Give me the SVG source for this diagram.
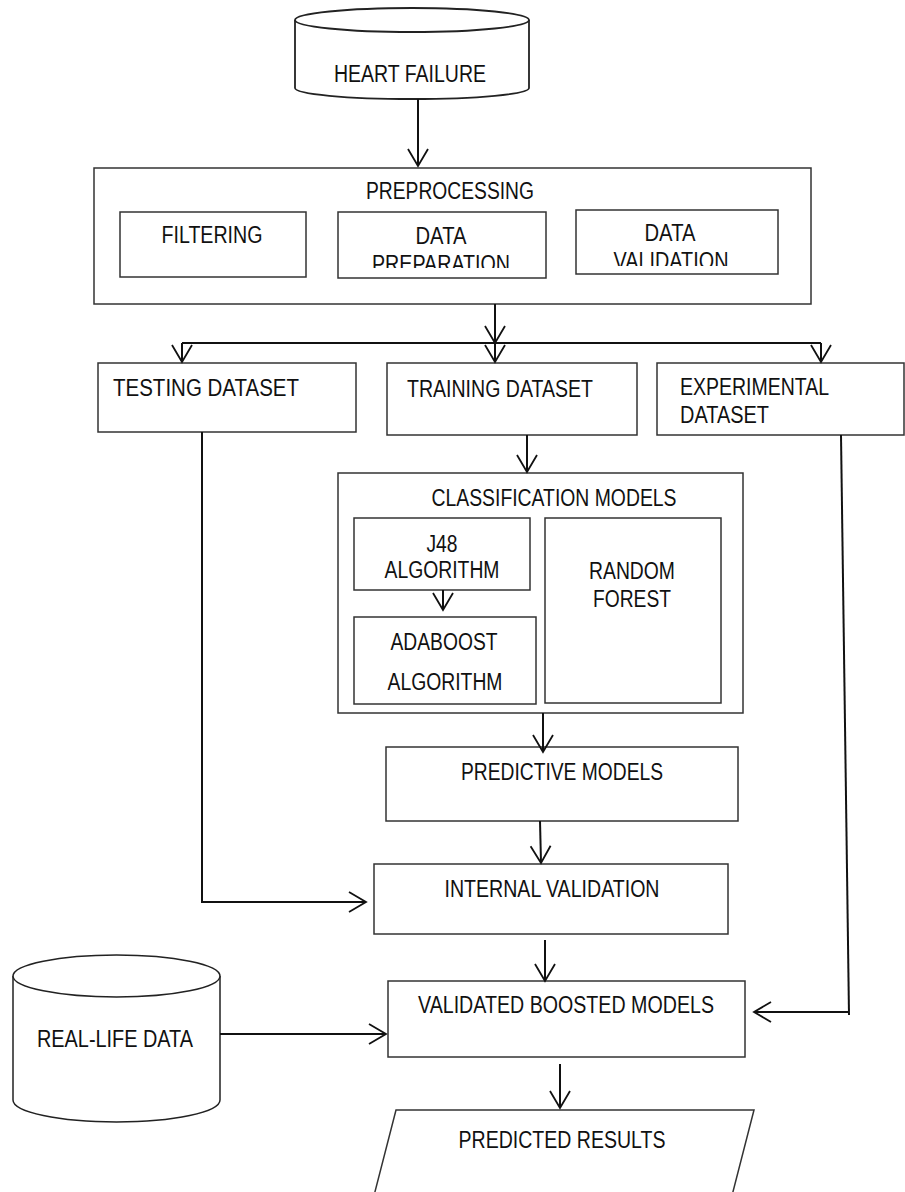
<svg xmlns="http://www.w3.org/2000/svg" width="905" height="1192" viewBox="0 0 905 1192">
<style>
.box{fill:#fff;stroke:#333;stroke-width:1.5}
.cyl{fill:#fff;stroke:#222;stroke-width:1.8}
.t{font-family:"Liberation Sans Narrow","Arial Narrow","Liberation Sans",Arial,sans-serif;font-size:23.5px;fill:#111}
.m{text-anchor:middle}
.c{fill:none;stroke:#111;stroke-width:2}
</style>
<defs>
<marker id="arr" markerUnits="userSpaceOnUse" markerWidth="20" markerHeight="24" viewBox="0 0 20 24" refX="18" refY="12" orient="auto">
<path d="M1,2 L18,12 L1,22" fill="none" stroke="#111" stroke-width="1.8"/>
</marker>
<clipPath id="clipPrep"><rect x="338" y="212" width="208" height="56"/></clipPath>
<clipPath id="clipVal"><rect x="576" y="210" width="202" height="56"/></clipPath>
</defs>
<rect width="905" height="1192" fill="#fff"/>

<g id="heart-failure">
<path class="cyl" d="M295,20 V88 A117,11 0 0 0 529,88 V20"/>
<ellipse class="cyl" cx="412" cy="20" rx="117" ry="12"/>
<text class="t m" x="410" y="82" textLength="152" lengthAdjust="spacingAndGlyphs">HEART FAILURE</text>
</g>

<g id="preprocessing">
<rect class="box" x="94" y="168" width="717" height="136"/>
<text class="t m" x="450" y="199" textLength="168" lengthAdjust="spacingAndGlyphs">PREPROCESSING</text>
</g>
<g id="filtering">
<rect class="box" x="120" y="212" width="186" height="65"/>
<text class="t m" x="212" y="243" textLength="101" lengthAdjust="spacingAndGlyphs">FILTERING</text>
</g>
<g id="data-preparation">
<rect class="box" x="338" y="212" width="208" height="66"/>
<text class="t m" x="441" y="244" textLength="51" lengthAdjust="spacingAndGlyphs">DATA</text>
<text class="t m" x="441" y="272" clip-path="url(#clipPrep)" textLength="138" lengthAdjust="spacingAndGlyphs">PREPARATION</text>
</g>
<g id="data-validation">
<rect class="box" x="576" y="210" width="202" height="64"/>
<text class="t m" x="670" y="241" textLength="51" lengthAdjust="spacingAndGlyphs">DATA</text>
<text class="t m" x="671" y="269" clip-path="url(#clipVal)" textLength="115" lengthAdjust="spacingAndGlyphs">VALIDATION</text>
</g>

<g id="testing-dataset">
<rect class="box" x="98" y="363" width="258" height="69"/>
<text class="t" x="113" y="396" textLength="186" lengthAdjust="spacingAndGlyphs">TESTING DATASET</text>
</g>
<g id="training-dataset">
<rect class="box" x="387" y="363" width="250" height="72"/>
<text class="t" x="407" y="397" textLength="186" lengthAdjust="spacingAndGlyphs">TRAINING DATASET</text>
</g>
<g id="experimental-dataset">
<rect class="box" x="657" y="363" width="247" height="72"/>
<text class="t" x="680" y="395" textLength="149" lengthAdjust="spacingAndGlyphs">EXPERIMENTAL</text>
<text class="t" x="680" y="423" textLength="89" lengthAdjust="spacingAndGlyphs">DATASET</text>
</g>

<g id="classification-models">
<rect class="box" x="338" y="473" width="405" height="240"/>
<text class="t m" x="554" y="506" textLength="245" lengthAdjust="spacingAndGlyphs">CLASSIFICATION MODELS</text>
</g>
<g id="j48">
<rect class="box" x="354" y="518" width="176" height="72"/>
<text class="t m" x="442" y="552" textLength="31" lengthAdjust="spacingAndGlyphs">J48</text>
<text class="t m" x="442" y="578" textLength="115" lengthAdjust="spacingAndGlyphs">ALGORITHM</text>
</g>
<g id="adaboost">
<rect class="box" x="354" y="617" width="182" height="87"/>
<text class="t m" x="444" y="650" textLength="107" lengthAdjust="spacingAndGlyphs">ADABOOST</text>
<text class="t m" x="445" y="690" textLength="115" lengthAdjust="spacingAndGlyphs">ALGORITHM</text>
</g>
<g id="random-forest">
<rect class="box" x="545" y="518" width="176" height="185"/>
<text class="t m" x="632" y="579" textLength="86" lengthAdjust="spacingAndGlyphs">RANDOM</text>
<text class="t m" x="632" y="607" textLength="78" lengthAdjust="spacingAndGlyphs">FOREST</text>
</g>

<g id="predictive-models">
<rect class="box" x="386" y="747" width="352" height="74"/>
<text class="t m" x="562" y="780" textLength="202" lengthAdjust="spacingAndGlyphs">PREDICTIVE MODELS</text>
</g>
<g id="internal-validation">
<rect class="box" x="374" y="864" width="354" height="70"/>
<text class="t m" x="552" y="897" textLength="215" lengthAdjust="spacingAndGlyphs">INTERNAL VALIDATION</text>
</g>
<g id="validated-boosted-models">
<rect class="box" x="388" y="981" width="357" height="76"/>
<text class="t m" x="566" y="1013" textLength="296" lengthAdjust="spacingAndGlyphs">VALIDATED BOOSTED MODELS</text>
</g>
<g id="real-life-data">
<path class="cyl" d="M13,976 V1100 A103.5,22 0 0 0 220,1100 V976" style="stroke-width:1.5"/>
<ellipse class="cyl" cx="116.5" cy="976" rx="103.5" ry="21" style="stroke-width:1.5"/>
<text class="t m" x="115" y="1047" textLength="156" lengthAdjust="spacingAndGlyphs">REAL-LIFE DATA</text>
</g>
<g id="predicted-results">
<path class="box" d="M396,1110 L754,1110 L727,1215 L369,1215 Z"/>
<text class="t m" x="562" y="1148" textLength="207" lengthAdjust="spacingAndGlyphs">PREDICTED RESULTS</text>
</g>

<g id="connectors">
<path class="c" d="M418,99 V166" marker-end="url(#arr)"/>
<path class="c" d="M495,304 V343" marker-end="url(#arr)"/>
<path class="c" d="M182,343 H821"/>
<path class="c" d="M182,343 V362" marker-end="url(#arr)"/>
<path class="c" d="M495,343 V362" marker-end="url(#arr)"/>
<path class="c" d="M821,343 V362" marker-end="url(#arr)"/>
<path class="c" d="M202,432 V902 H366" marker-end="url(#arr)"/>
<path class="c" d="M527,435 V472" marker-end="url(#arr)"/>
<path class="c" d="M443,590 V610" marker-end="url(#arr)"/>
<path class="c" d="M543,713 V752" marker-end="url(#arr)"/>
<path class="c" d="M540,821 L541,863" marker-end="url(#arr)"/>
<path class="c" d="M545,940 V981" marker-end="url(#arr)"/>
<path class="c" d="M841,435 L849,1015"/>
<path class="c" d="M849,1012 H754" marker-end="url(#arr)"/>
<path class="c" d="M220,1034 H386" marker-end="url(#arr)"/>
<path class="c" d="M560,1064 V1108" marker-end="url(#arr)"/>
</g>
</svg>
